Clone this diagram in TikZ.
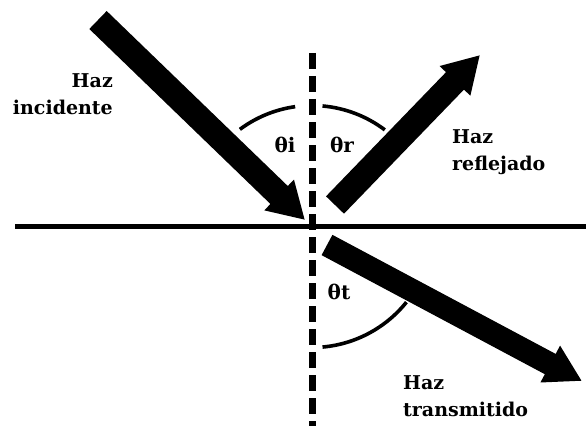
\documentclass[tikz,border=0pt]{standalone}
\usepackage{fontspec}
\setmainfont{DejaVu Serif}
\usetikzlibrary{arrows.meta}
\tikzset{
  beam/.style={line width=25pt,-{Triangle[length=36pt,width=40pt]}},
  anglearc/.style={line width=3.6pt},
  beamlabel/.style={font=\fontsize{19}{27}\selectfont\bfseries,inner sep=0pt},
  anglelabel/.style={font=\fontsize{20}{24}\selectfont\bfseries,inner sep=0pt}
}
\begin{document}
\begin{tikzpicture}[x=1pt,y=1pt]
\useasboundingbox (0,0) rectangle (586,432);

\coordinate (O) at (312,205.5);
\coordinate (surfL) at (15,205.5);
\coordinate (surfR) at (586,205.5);
\coordinate (normT) at (312.5,379);
\coordinate (normB) at (312.5,6);

\draw[line width=5pt] (surfL) -- (surfR);
\draw[line width=6.5pt,dash pattern=on 16pt off 7pt] (normT) -- (normB);

% beams
\coordinate (inA) at (98,412);
\coordinate (inB) at (305,212);
\coordinate (reA) at (335,227);
\coordinate (reB) at (480,377);
\coordinate (trA) at (327,187);
\coordinate (trB) at (582,51);
\draw[beam] (inA) -- (inB);
\draw[beam] (reA) -- (reB);
\draw[line width=23pt,-{Triangle[length=36pt,width=39pt]}] (trA) -- (trB);

% angles
\draw[anglearc] (O) ++(126.6:121) arc (126.6:98:121);
\draw[anglearc] (O) ++(85:121) arc (85:53:121);
\draw[anglearc] (O) ++(-85:121) arc (-85:-38.7:121);

\node[anglelabel] (thi) at (285,287) {θi};
\node[anglelabel] (thr) at (342,287) {θr};
\node[anglelabel] (tht) at (339,140) {θt};

\node[beamlabel,align=right,anchor=north east] (lblin) at (113,359) {Haz\\incidente};
\node[beamlabel,align=left,anchor=north west] (lblre) at (452,303) {Haz\\reflejado};
\node[beamlabel,align=left,anchor=north west] (lbltr) at (403,57) {Haz\\transmitido};
\end{tikzpicture}
\end{document}
